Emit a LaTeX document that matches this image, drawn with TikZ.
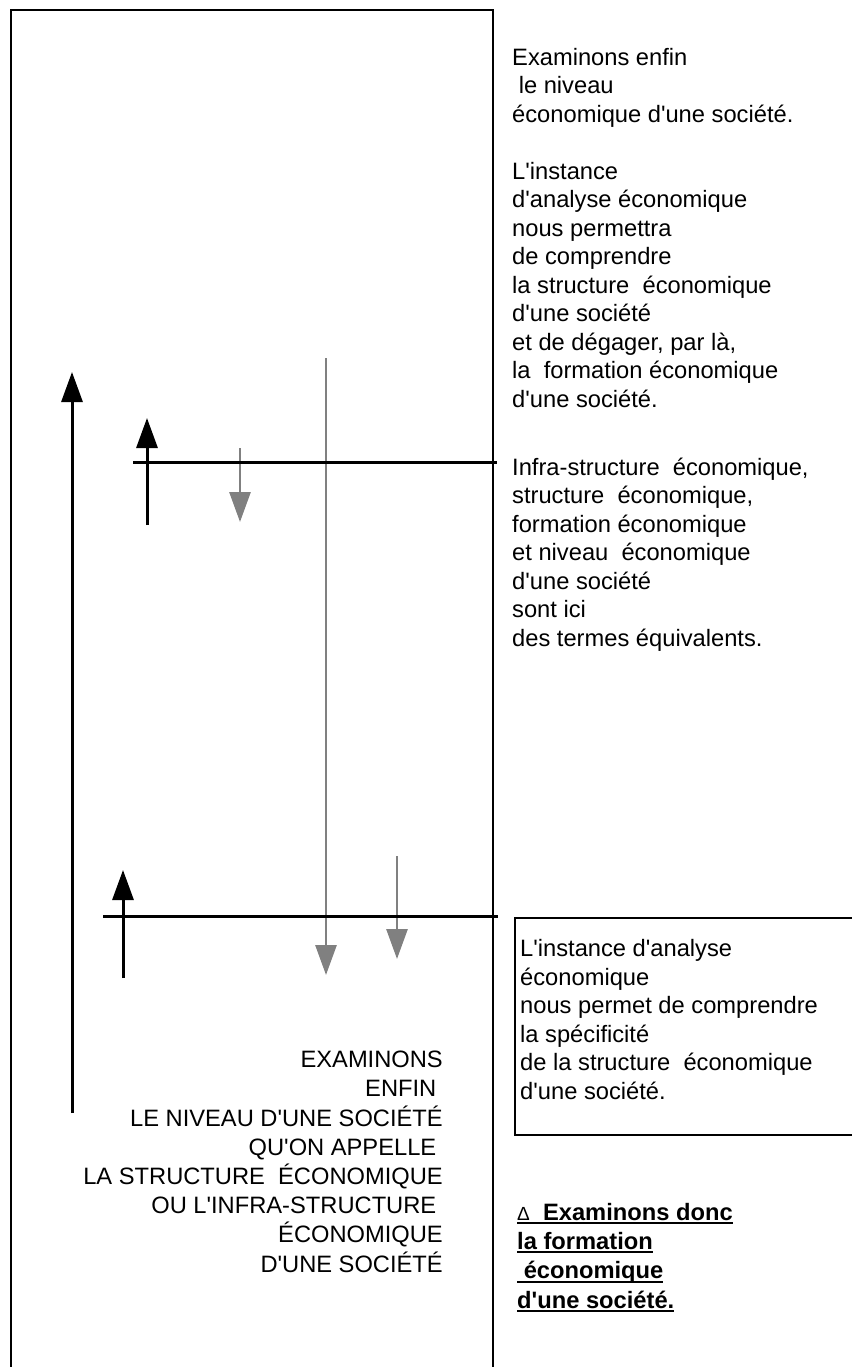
\documentclass[tikz,border=0pt]{standalone}
\usepackage{fontspec}
\setmainfont{Liberation Sans}[Ligatures=TeXOff]
\usepackage{tikz}
\usetikzlibrary{arrows.meta}

\newcommand\esp{\kern6.5pt}
\newcommand\souligne[1]{\setbox0\hbox{#1}\rlap{\vrule height -2pt depth 4pt width \wd0}\box0}

\begin{document}
\begin{tikzpicture}[x=1pt,y=-1pt,
    font=\fontsize{23.7}{28.5}\selectfont,
    texte/.style={inner sep=0pt,align=left,anchor=base west},
    noir/.style={line width=3pt,-{Triangle[length=30pt,width=21pt]}},
    gris/.style={line width=2.8pt,color=gray,-{Triangle[length=30pt,width=21pt]}},
    trait/.style={line width=3pt},
    cadre/.style={line width=2.5pt}]
    \useasboundingbox (0,0) rectangle (851,1367);

    \draw[cadre] (11,1375) -- (11,10) -- (493,10) -- (493,1375);

    \coordinate (c1) at (72,1113);
    \coordinate (c2) at (72,372);
    \coordinate (c3) at (147,525);
    \coordinate (c4) at (147,418);
    \coordinate (c5) at (240,448);
    \coordinate (c6) at (240,522);
    \coordinate (c7) at (326,358);
    \coordinate (c8) at (326,975);
    \coordinate (c9) at (123,978);
    \coordinate (c10) at (123,870);
    \coordinate (c11) at (397,856);
    \coordinate (c12) at (397,959);
    \coordinate (c13) at (133,462);
    \coordinate (c14) at (497,462);
    \coordinate (c15) at (103,916);
    \coordinate (c16) at (498,916);

    \path[noir] (c1) edge (c2)
                (c3) edge (c4)
                (c9) edge (c10);
    \path[gris] (c5) edge (c6)
                (c7) edge (c8)
                (c11) edge (c12);
    \path[trait] (c13) edge (c14)
                 (c15) edge (c16);

    % texts: anchored at the baseline of their last line
    \node[texte,name=t1] at (512,407) {Examinons enfin\\
        \ le niveau\\
        économique d'une société.\\[28.5pt]
        L'instance\\
        d'analyse économique\\
        nous permettra\\
        de comprendre\\
        la structure~ économique\\
        d'une société\\
        et de dégager, par là,\\
        la~ formation économique\\
        d'une société.};

    \node[texte,name=t2] at (512,646) {Infra-structure~ économique,\\
        structure~ économique,\\
        formation économique\\
        et niveau~ économique\\
        d'une société\\
        sont ici\\
        des termes équivalents.};

    \draw[cadre] (515,918) rectangle (870,1135);
    \node[texte,name=t3] at (520,1099) {L'instance d'analyse\\
        économique\\
        nous permet de comprendre\\
        la spécificité\\
        de la structure~ économique\\
        d'une société.};

    \node[texte,name=t4,align=right,anchor=base east,
        font=\fontsize{23.7}{29.2}\selectfont] at (443,1272) {EXAMINONS\\
        ENFIN\esp\\
        LE NIVEAU D'UNE SOCIÉTÉ\\
        QU'ON APPELLE\esp\\
        LA STRUCTURE~ ÉCONOMIQUE\\
        OU L'INFRA-STRUCTURE\esp\\
        ÉCONOMIQUE\\
        D'UNE SOCIÉTÉ};

    \node[texte,name=t5,font=\fontsize{23.7}{29.3}\selectfont\bfseries] at (517,1308)
        {\souligne{{\mdseries\fontsize{19}{19}\selectfont Δ}~ Examinons donc}\\
        \souligne{la formation}\\
        \souligne{\ économique}\\
        \souligne{d'une société.}};
\end{tikzpicture}
\end{document}
